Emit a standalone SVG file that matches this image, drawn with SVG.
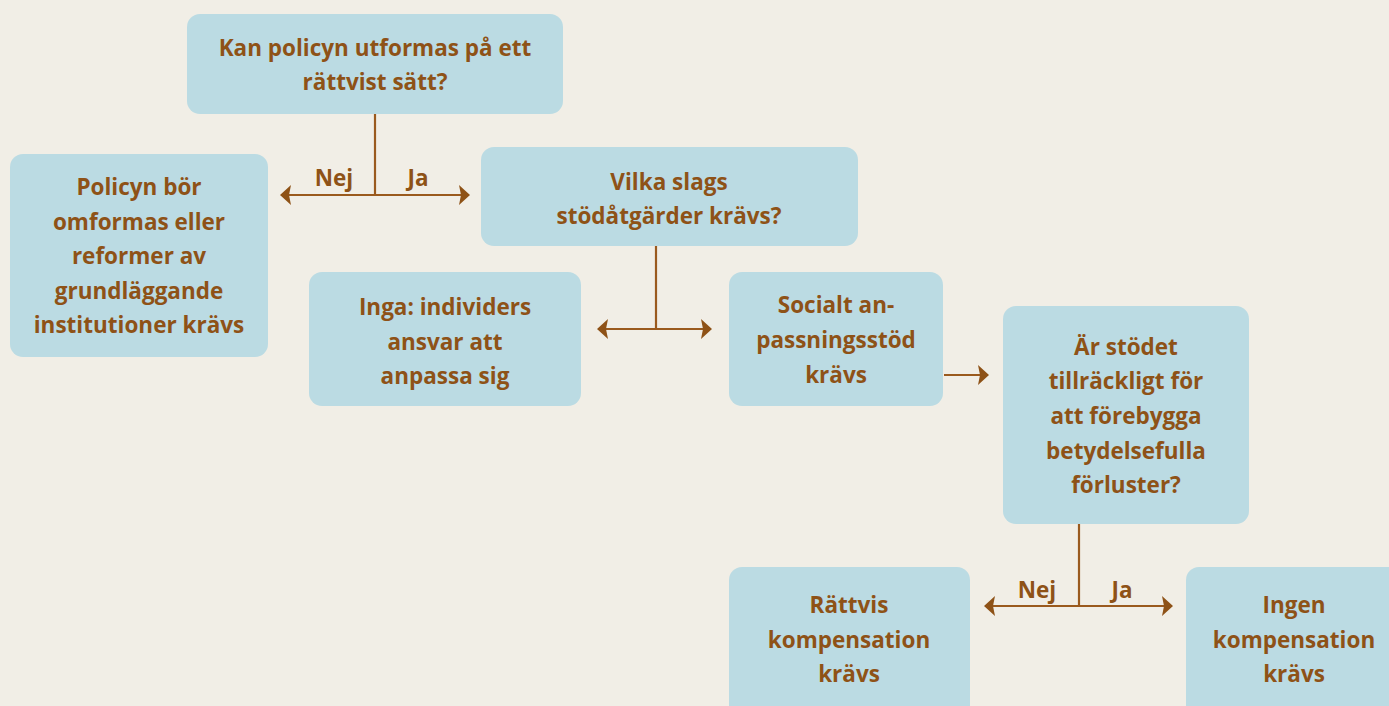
<svg xmlns="http://www.w3.org/2000/svg" width="1389" height="706" viewBox="0 0 1389 706">
<defs>
<style>
.box{fill:#BBDBE3;}
.t{font-family:"Open Sans","Noto Sans","Liberation Sans",sans-serif;font-weight:bold;font-size:22.5px;fill:#8E5217;text-anchor:middle;}
.ln{stroke:#9A5A1E;stroke-width:2.2;fill:none;}
</style>
<marker id="ah" viewBox="0 0 11 20" refX="10" refY="10" markerWidth="11" markerHeight="20" markerUnits="userSpaceOnUse" orient="auto-start-reverse">
<path d="M0,0 L11,10 L0,20 L2,10 Z" fill="#8E5217"/>
</marker>
</defs>
<rect width="1389" height="706" fill="#F1EEE6"/>
<g id="connectors">
<path class="ln" d="M375,114 V195"/>
<path class="ln" d="M281,195 H469" marker-start="url(#ah)" marker-end="url(#ah)"/>
<text class="t" x="334" y="186">Nej</text>
<text class="t" x="418" y="186">Ja</text>
<path class="ln" d="M656,246 V329"/>
<path class="ln" d="M598,329 H711" marker-start="url(#ah)" marker-end="url(#ah)"/>
<path class="ln" d="M944,375 H988" marker-end="url(#ah)"/>
<path class="ln" d="M1079,524 V606"/>
<path class="ln" d="M985,606 H1172" marker-start="url(#ah)" marker-end="url(#ah)"/>
<text class="t" x="1037" y="598">Nej</text>
<text class="t" x="1122" y="598">Ja</text>
</g>
<g id="n1"><rect class="box" x="187" y="14" width="376" height="100" rx="13"/>
<text class="t" x="375" y="56">Kan policyn utformas på ett</text>
<text class="t" x="375" y="90">rättvist sätt?</text></g>
<g id="n2"><rect class="box" x="10" y="154" width="258" height="203" rx="13"/>
<text class="t" x="139" y="195">Policyn bör</text>
<text class="t" x="139" y="230">omformas eller</text>
<text class="t" x="139" y="264">reformer av</text>
<text class="t" x="139" y="299">grundläggande</text>
<text class="t" x="139" y="333">institutioner krävs</text></g>
<g id="n3"><rect class="box" x="481" y="147" width="377" height="99" rx="13"/>
<text class="t" x="669" y="190">Vilka slags</text>
<text class="t" x="669" y="224">stödåtgärder krävs?</text></g>
<g id="n4"><rect class="box" x="309" y="272" width="272" height="134" rx="13"/>
<text class="t" x="445" y="315">Inga: individers</text>
<text class="t" x="445" y="350">ansvar att</text>
<text class="t" x="445" y="384">anpassa sig</text></g>
<g id="n5"><rect class="box" x="729" y="272" width="214" height="134" rx="13"/>
<text class="t" x="836" y="313">Socialt an-</text>
<text class="t" x="836" y="348">passningsstöd</text>
<text class="t" x="836" y="383">krävs</text></g>
<g id="n6"><rect class="box" x="1003" y="306" width="246" height="218" rx="13"/>
<text class="t" x="1126" y="355">Är stödet</text>
<text class="t" x="1126" y="389">tillräckligt för</text>
<text class="t" x="1126" y="424">att förebygga</text>
<text class="t" x="1126" y="459">betydelsefulla</text>
<text class="t" x="1126" y="493">förluster?</text></g>
<g id="n7"><rect class="box" x="729" y="567" width="241" height="160" rx="13"/>
<text class="t" x="849" y="613">Rättvis</text>
<text class="t" x="849" y="648">kompensation</text>
<text class="t" x="849" y="682">krävs</text></g>
<g id="n8"><rect class="box" x="1186" y="567" width="230" height="160" rx="13"/>
<text class="t" x="1294" y="613">Ingen</text>
<text class="t" x="1294" y="648">kompensation</text>
<text class="t" x="1294" y="682">krävs</text></g>
</svg>
